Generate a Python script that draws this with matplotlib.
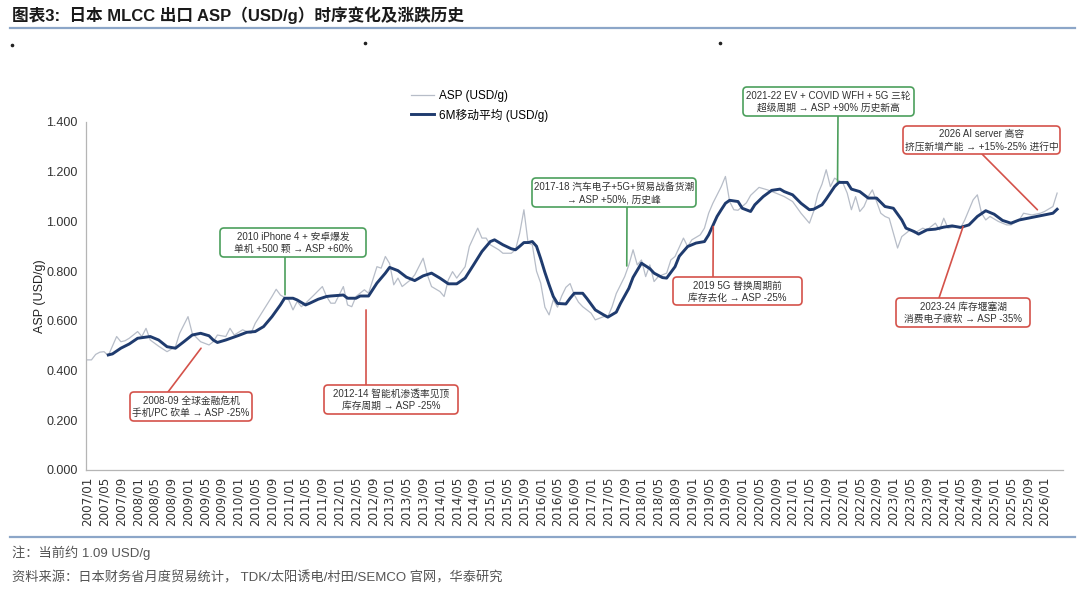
import matplotlib
matplotlib.use('Agg')
import matplotlib.pyplot as plt
from matplotlib.patches import FancyBboxPatch, ConnectionPatch

plt.rcParams['font.family'] = ['Liberation Sans', 'Noto Sans CJK SC', 'DejaVu Sans']

W, H = 1080, 589

# ---- data (month index: 0 = 2007/01) ----
raw_month = [0, 1, 2, 3, 4, 5, 7, 8, 9, 10,
             12, 13, 14, 15, 17, 19, 21, 22,
             24, 25, 27, 29, 30, 31, 33, 34, 35,
             37, 39, 40, 42, 44, 45, 46,
             48, 49, 50, 51, 52, 54, 56, 57, 58, 59,
             61, 62, 63, 64, 66, 67, 69, 70, 71,
             72, 73, 74, 75, 77, 78, 80, 81, 82,
             84, 85, 86, 87, 88, 90, 91, 93, 94, 95,
             96, 98, 99, 101, 102, 103, 104, 105, 106, 107,
             108, 109, 110, 111, 112, 113, 114, 115, 116, 117, 118,
             120, 121, 123, 124, 125, 126, 128, 129, 130, 131,
             132, 133, 134, 135, 136, 138, 139, 140, 142, 143,
             144, 146, 147, 148, 149, 151, 152, 153, 154, 155,
             157, 158, 160, 162, 164, 166,
             168, 170, 172, 173, 174, 175, 176, 177, 178,
             180, 181, 182, 183, 184, 185, 186, 187, 188, 189, 190, 191,
             192, 193, 194, 196, 197, 199, 200, 202, 203,
             204, 205, 207, 208, 209, 211, 212, 213, 214, 215,
             217, 219, 220, 222, 223, 225, 227,
             228, 230, 231]
raw_asp = [0.443, 0.443, 0.465, 0.474, 0.476, 0.460, 0.537, 0.516, 0.520, 0.530,
           0.557, 0.537, 0.570, 0.523, 0.498, 0.476, 0.496, 0.550,
           0.617, 0.550, 0.516, 0.503, 0.516, 0.543, 0.537, 0.570, 0.543,
           0.564, 0.550, 0.590, 0.644, 0.698, 0.727, 0.704,
           0.684, 0.644, 0.678, 0.657, 0.671, 0.704, 0.738, 0.698, 0.671, 0.671,
           0.738, 0.664, 0.657, 0.698, 0.725, 0.711, 0.818, 0.812, 0.859,
           0.831, 0.745, 0.772, 0.738, 0.765, 0.785, 0.852, 0.785, 0.738,
           0.718, 0.698, 0.765, 0.798, 0.772, 0.818, 0.899, 0.973, 0.933, 0.933,
           0.906, 0.886, 0.872, 0.872, 0.886, 0.953, 1.047, 0.913, 0.906, 0.800,
           0.752, 0.655, 0.624, 0.685, 0.655, 0.700, 0.735, 0.750, 0.705, 0.675, 0.657,
           0.631, 0.604, 0.617, 0.617, 0.657, 0.710, 0.778, 0.825, 0.886, 0.825,
           0.845, 0.778, 0.825, 0.758, 0.778, 0.792, 0.845, 0.859, 0.933, 0.899,
           0.926, 0.946, 0.973, 1.033, 1.073, 1.140, 1.181, 1.080, 1.047, 1.045,
           1.075, 1.105, 1.137, 1.127, 1.114, 1.100,
           1.080, 1.033, 0.993, 1.040, 1.110, 1.150, 1.208, 1.140, 1.174,
           1.154, 1.114, 1.047, 1.100, 1.040, 1.060, 1.100, 1.127, 1.080, 1.033, 1.020, 1.013,
           0.953, 0.893, 0.939, 0.966, 0.953, 0.973, 0.966, 0.993, 0.966,
           1.013, 0.973, 0.979, 0.973, 1.006, 1.087, 1.107, 1.033, 1.006, 1.020,
           1.000, 0.986, 0.986, 1.006, 1.033, 1.026, 1.033,
           1.040, 1.060, 1.114]

ma_month = [5, 6, 8, 10, 12, 15, 17, 19, 21, 23,
            25, 27, 29, 30, 31, 33, 36, 38, 40, 42,
            44, 46, 47, 49, 50, 52, 53, 55, 57, 58,
            61, 62, 64, 65, 67, 69, 71, 72, 74, 76,
            78, 80, 82, 84, 86, 88, 90, 92, 94, 96,
            97, 99, 101, 102, 103, 104, 105, 106, 107, 108,
            109, 110, 111, 112, 114, 115, 116, 118, 119, 121,
            123, 124, 126, 127, 129, 130, 132, 134, 135, 137,
            138, 140, 141, 143, 145, 147, 148, 150, 151, 152,
            153, 155, 156, 158, 159, 161, 163, 165, 166, 168,
            170, 172, 173, 175, 176, 178, 179, 181, 182, 184,
            186, 188, 190, 192, 194, 195, 197, 198, 200, 202,
            204, 206, 208, 210, 212, 214, 216, 218, 220, 222,
            225, 227, 230, 231]
ma_asp = [0.463, 0.467, 0.490, 0.507, 0.530, 0.537, 0.523, 0.496, 0.490, 0.516,
          0.543, 0.550, 0.540, 0.523, 0.513, 0.523, 0.541, 0.554, 0.557, 0.577,
          0.617, 0.664, 0.691, 0.691, 0.684, 0.664, 0.671, 0.687, 0.698, 0.700,
          0.704, 0.691, 0.691, 0.700, 0.700, 0.752, 0.792, 0.815, 0.802, 0.776,
          0.762, 0.781, 0.792, 0.772, 0.749, 0.749, 0.772, 0.825, 0.879, 0.919,
          0.926, 0.906, 0.890, 0.886, 0.900, 0.915, 0.915, 0.919, 0.900, 0.850,
          0.795, 0.745, 0.698, 0.670, 0.668, 0.691, 0.711, 0.711, 0.690, 0.644,
          0.624, 0.615, 0.635, 0.670, 0.731, 0.775, 0.832, 0.810, 0.792, 0.774,
          0.772, 0.818, 0.860, 0.899, 0.913, 0.919, 0.946, 1.020, 1.047, 1.073,
          1.085, 1.080, 1.053, 1.040, 1.067, 1.100, 1.125, 1.130, 1.120, 1.107,
          1.073, 1.047, 1.049, 1.067, 1.090, 1.140, 1.157, 1.157, 1.130, 1.120,
          1.094, 1.094, 1.060, 1.053, 1.006, 0.973, 0.959, 0.949, 0.966, 0.969,
          0.977, 0.982, 0.976, 0.986, 1.020, 1.043, 1.029, 1.004, 0.993, 1.006,
          1.016, 1.023, 1.033, 1.049]

tick_month = list(range(0, 229, 4))
tick_labels = [f"{2007 + m // 12}/{m % 12 + 1:02d}" for m in tick_month]
y_ticks = [0.0, 0.2, 0.4, 0.6, 0.8, 1.0, 1.2, 1.4]

# annotations: text, colour, box (x0, y0, x1, y1) in px, line start px, target (month, value)
note_text = ['2010 iPhone 4 + 安卓爆发\n单机 +500 颗 → ASP +60%',
             '2008-09 全球金融危机\n手机/PC 砍单 → ASP -25%',
             '2012-14 智能机渗透率见顶\n库存周期 → ASP -25%',
             '2017-18 汽车电子+5G+贸易战备货潮\n→ ASP +50%, 历史峰',
             '2019 5G 替换周期前\n库存去化 → ASP -25%',
             '2021-22 EV + COVID WFH + 5G 三轮\n超级周期 → ASP +90% 历史新高',
             '2026 AI server 高容\n挤压新增产能 → +15%-25% 进行中',
             '2023-24 库存堰塞湖\n消费电子疲软 → ASP -35%']
GREEN, RED = '#4c9f5c', '#d4524a'
note_color = [GREEN, RED, RED, GREEN, RED, GREEN, RED, RED]
note_box = [(220, 228, 366, 257), (130, 392, 252, 421), (324, 385, 458, 414),
            (532, 178, 696, 207), (673, 277, 802, 305), (743, 87, 914, 116),
            (903, 126, 1060, 154), (896, 298, 1030, 327)]
note_start = [(285, 257), (168, 392), (366, 385), (627, 207), (713, 277),
              (838, 116), (982, 154), (939, 298)]
note_target = [(47.1, 0.705), (27.1, 0.490), (66.4, 0.644), (128.5, 0.821),
               (149.1, 0.979), (178.7, 1.161), (226.3, 1.047), (208.6, 0.979)]

# ---- figure ----
fig = plt.figure(figsize=(W / 100, H / 100), dpi=100)
ax = fig.add_axes([86 / W, 1 - 470 / H, 977 / W, 348 / H])

ln_raw, = ax.plot(raw_month, raw_asp, color='#b7bdc8', lw=0.9, label='ASP (USD/g)')
ln_ma, = ax.plot(ma_month, ma_asp, color='#1f3b6e', lw=2.1, label='6M移动平均 (USD/g)')

ax.set_xlim(-0.3, 232.4)
ax.set_ylim(0, 1.4)
ax.set_yticks(y_ticks)
ax.set_yticklabels([f'{v:.3f}' for v in y_ticks], fontsize=9, color='#333333')
ax.set_xticks(tick_month)
ax.set_xticklabels(tick_labels, rotation=90, fontsize=8.6, color='#333333',
                   family='DejaVu Sans')
ax.tick_params(axis='both', length=0)
ax.tick_params(axis='y', pad=6)
ax.tick_params(axis='x', pad=5)
for s in ['top', 'right']:
    ax.spines[s].set_visible(False)
for s in ['left', 'bottom']:
    ax.spines[s].set_color('#b5b5b5')
    ax.spines[s].set_linewidth(0.9)
ax.set_ylabel('ASP (USD/g)', fontsize=9, color='#222222')
ax.yaxis.set_label_coords(-0.041, 0.5)

fig.legend([ln_raw, ln_ma], [ln_raw.get_label(), ln_ma.get_label()],
           loc='upper left', bbox_to_anchor=(411 / W, 1 - 90 / H),
           frameon=False, fontsize=8.5, handlelength=1.95, handletextpad=0.4,
           labelspacing=0.55, borderpad=0, borderaxespad=0)

# overlay in pixel units for title, boxes, footer
ov = fig.add_axes([0, 0, 1, 1], zorder=5)
ov.set_xlim(0, W)
ov.set_ylim(H, 0)
ov.axis('off')

ov.text(12, 15, '图表3:  日本 MLCC 出口 ASP（USD/g）时序变化及涨跌历史',
        fontsize=12, fontweight='bold', color='#1a1a1a', va='center', ha='left')
ov.plot([10, 1075], [28, 28], color='#8ca6c8', lw=1.6)
ov.plot([12, 365, 720], [45, 43, 43], ls='none', marker='o', ms=1.6, color='#222222')

for txt, c, (x0, y0, x1, y1), (sx, sy), (tm, tv) in zip(
        note_text, note_color, note_box, note_start, note_target):
    con = ConnectionPatch(xyA=(sx, sy), coordsA=ov.transData,
                          xyB=(tm, tv), coordsB=ax.transData,
                          color=c, lw=1.2)
    ov.add_artist(con)
    box = FancyBboxPatch((x0, y0), x1 - x0, y1 - y0,
                         boxstyle='round,pad=0,rounding_size=4',
                         fc='white', ec=c, lw=1.2, zorder=3)
    ov.add_patch(box)
    ov.text((x0 + x1) / 2, (y0 + y1) / 2 + 0.5, txt, fontsize=7, color='#333333',
            ha='center', va='center', multialignment='center',
            linespacing=1.25, zorder=4)

ov.plot([10, 1075], [537, 537], color='#8ca6c8', lw=1.6)
ov.text(12, 553, '注：当前约 1.09 USD/g', fontsize=9.5, color='#555555',
        va='center', ha='left')
ov.text(12, 578, '资料来源：日本财务省月度贸易统计， TDK/太阳诱电/村田/SEMCO 官网，华泰研究',
        fontsize=9.5, color='#555555', va='center', ha='left')

fig.savefig('out.png', dpi=100)
